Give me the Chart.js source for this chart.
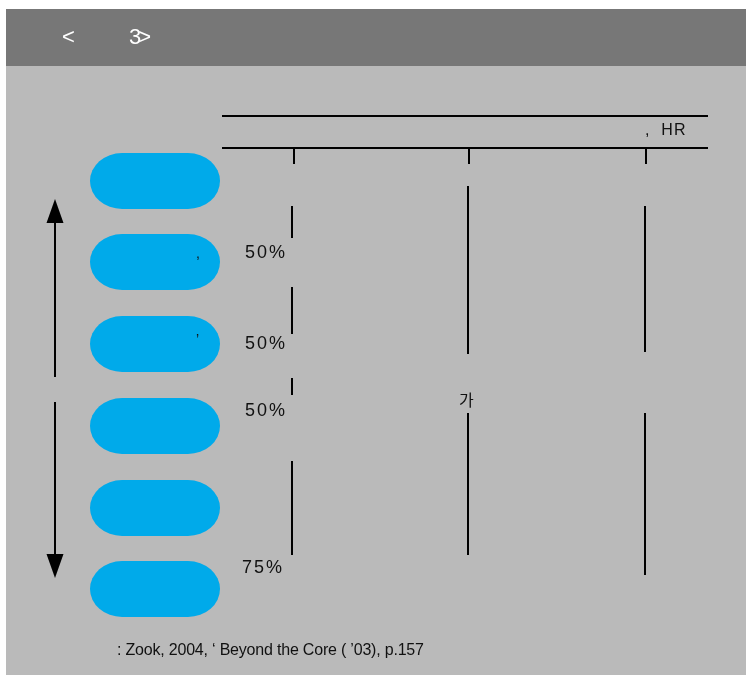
<!DOCTYPE html>
<html>
<head>
<meta charset="utf-8">
<script src="https://cdn.jsdelivr.net/npm/chart.js@4/dist/chart.umd.min.js"></script>
<style>
  html, body { margin: 0; padding: 0; background: #fff; }
  #wrap { position: relative; width: 746px; height: 675px; }
  #bg { position: absolute; left: 6px; top: 9px; right: 0; bottom: 0; background: #bababa; }
  #head { position: absolute; left: 6px; top: 9px; right: 0; height: 57px; background: #777777; }
  canvas { position: absolute; left: 0; top: 0; }
</style>
</head>
<body>
<div id="wrap">
  <div id="bg"></div>
  <div id="head"></div>
  <canvas id="c" width="746" height="675"></canvas>
</div>
<script>
// pill boxes (left column): centre x, centre y
const pillX = 155;
const pillY = [181, 262, 344, 426, 508, 589];

// horizontal rules of the table head
const ruleY = [116, 148];
const ruleX = [222, 708];

// column ticks under the head
const tickX = [294, 469, 646];
const tickY = [148, 164];

// vertical column segments: [x, y0, y1]
const colSegments = [
  [292, 206, 238], [292, 287, 334], [292, 378, 395], [292, 461, 555],
  [468, 186, 354], [468, 413, 555],
  [645, 206, 352], [645, 413, 575]
];

// left double arrow
const arrowX = 55;
const arrowUp = [222, 377];
const arrowDown = [402, 555];
const arrowTips = [211, 566];

// labels
const pctLabels = ['50%', '50%', '50%', '75%'];
const pctX = [245, 245, 245, 242];
const pctY = [253, 344, 411, 568];

const notes = [
  { t: '<', x: 62, y: 38, c: '#fff', f: '22px "Liberation Sans"' },
  { t: '3>', x: 129, y: 38, c: '#fff', f: '22px "Liberation Sans"', ls: '-3px' },
  { t: ',  HR', x: 645, y: 131, c: '#111', f: '16px "Liberation Sans"', ls: '1px' },
  { t: '가', x: 459, y: 400, c: '#111', f: '16px "Noto Sans CJK KR"' },
  { t: ',', x: 196, y: 254, c: '#111', f: '14px "Liberation Sans"' },
  { t: '\u2019', x: 196, y: 340, c: '#111', f: '14px "Liberation Sans"' },
  { t: ': Zook, 2004, \u2018 Beyond the Core ( \u201903), p.157', x: 117, y: 651, c: '#111', f: '16px "Liberation Sans"', ls: '-0.2px' }
];

// marker images
const pill = document.createElement('canvas');
pill.width = 130; pill.height = 56;
(function () {
  const g = pill.getContext('2d');
  const rx = 32, ry = 28;
  g.fillStyle = '#00aaea';
  g.beginPath();
  g.ellipse(rx, ry, rx, ry, 0, Math.PI / 2, Math.PI * 1.5);
  g.lineTo(130 - rx, 0);
  g.ellipse(130 - rx, ry, rx, ry, 0, -Math.PI / 2, Math.PI / 2);
  g.closePath();
  g.fill();
})();

const arrowHead = document.createElement('canvas');
arrowHead.width = 18; arrowHead.height = 24;
(function () {
  const g = arrowHead.getContext('2d');
  g.fillStyle = '#000';
  g.beginPath();
  g.moveTo(9, 0); g.lineTo(17.5, 24); g.lineTo(0.5, 24); g.closePath();
  g.fill();
})();

const lineDs = (pts, w) => ({
  type: 'line',
  data: pts,
  borderColor: '#000',
  borderWidth: w,
  pointRadius: 0,
  pointHoverRadius: 0,
  fill: false,
  tension: 0
});

const datasets = [];

datasets.push({
  type: 'scatter',
  data: pillY.map(y => ({ x: pillX, y })),
  pointStyle: pill
});

ruleY.forEach(y => datasets.push(lineDs([{ x: ruleX[0], y }, { x: ruleX[1], y }], 2)));
tickX.forEach(x => datasets.push(lineDs([{ x, y: tickY[0] }, { x, y: tickY[1] }], 2)));
colSegments.forEach(s => datasets.push(lineDs([{ x: s[0], y: s[1] }, { x: s[0], y: s[2] }], 2)));
datasets.push(lineDs([{ x: arrowX, y: arrowUp[0] }, { x: arrowX, y: arrowUp[1] }], 2));
datasets.push(lineDs([{ x: arrowX, y: arrowDown[0] }, { x: arrowX, y: arrowDown[1] }], 2));

datasets.push({
  type: 'scatter',
  data: arrowTips.map(y => ({ x: arrowX, y })),
  pointStyle: arrowHead,
  rotation: [0, 180]
});

const textPlugin = {
  id: 'texts',
  afterDatasetsDraw(chart) {
    const { ctx, scales } = chart;
    ctx.save();
    ctx.textBaseline = 'middle';
    ctx.textAlign = 'left';
    pctLabels.forEach((t, i) => {
      ctx.font = '18px "Liberation Sans"';
      ctx.letterSpacing = '2px';
      ctx.fillStyle = '#111';
      ctx.fillText(t, scales.x.getPixelForValue(pctX[i]), scales.y.getPixelForValue(pctY[i]));
    });
    notes.forEach(n => {
      ctx.font = n.f;
      ctx.letterSpacing = n.ls || '0px';
      ctx.fillStyle = n.c;
      ctx.fillText(n.t, scales.x.getPixelForValue(n.x), scales.y.getPixelForValue(n.y));
    });
    ctx.restore();
  }
};

new Chart(document.getElementById('c').getContext('2d'), {
  data: { datasets },
  options: {
    responsive: false,
    animation: false,
    events: [],
    layout: { padding: 0, autoPadding: false },
    plugins: { legend: { display: false }, tooltip: { enabled: false } },
    scales: {
      x: { type: 'linear', min: 0, max: 746, display: false, offset: false },
      y: { type: 'linear', min: 0, max: 675, reverse: true, display: false, offset: false }
    }
  },
  plugins: [textPlugin]
});
</script>
</body>
</html>
